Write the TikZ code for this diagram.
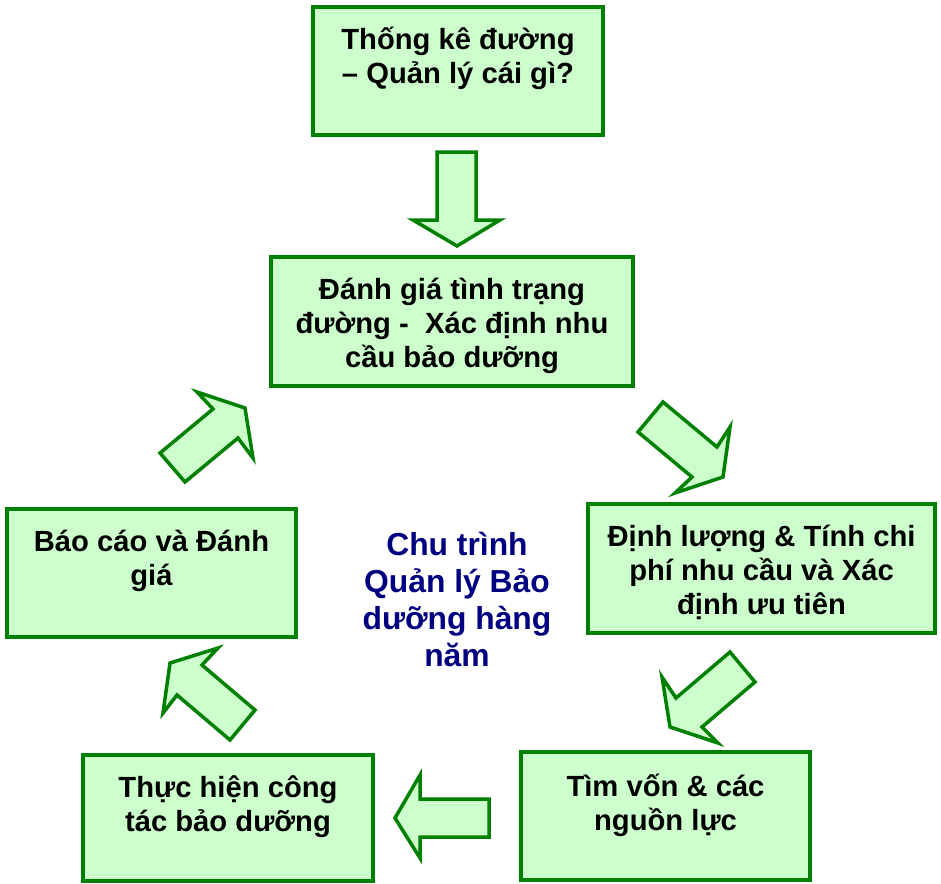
\documentclass[tikz,border=0pt]{standalone}
\usepackage{fontspec}
\setmainfont{Liberation Sans}
\definecolor{boxgreen}{RGB}{0,128,0}
\definecolor{boxfill}{RGB}{204,255,204}
\definecolor{navytext}{RGB}{0,0,128}
\tikzset{
  stepbox/.style={draw=boxgreen, fill=boxfill, line width=4pt, rectangle, inner sep=0pt},
  boxtext/.style={anchor=base, inner sep=0pt, font=\fontsize{29.2}{34}\selectfont\bfseries},
  centertext/.style={anchor=base, inner sep=0pt, text=navytext, font=\fontsize{31.8}{37.3}\selectfont\bfseries},
  blockarrow/.style={draw=boxgreen, fill=boxfill, line width=3.5pt, line join=miter}
}
\newcommand{\lines}[1]{\begin{tabular}[t]{@{}c@{}}#1\end{tabular}}
\begin{document}
\begin{tikzpicture}[x=1pt,y=-1pt]
\useasboundingbox (0,0) rectangle (941,883);
% boxes
\node[stepbox, minimum width=290pt, minimum height=128pt] (b1) at (458,71) {};
\node[stepbox, minimum width=362pt, minimum height=129pt] (b2) at (452,321.5) {};
\node[stepbox, minimum width=347pt, minimum height=129pt] (b3) at (761.5,568.5) {};
\node[stepbox, minimum width=289pt, minimum height=128pt] (b4) at (665.5,816) {};
\node[stepbox, minimum width=290pt, minimum height=126pt] (b5) at (228,818) {};
\node[stepbox, minimum width=289pt, minimum height=128pt] (b6) at (151.5,573) {};
% texts
\node[boxtext] (t1) at ([yshift=-44.5pt]b1.north) {\lines{Thống kê đường\\– Quản lý cái gì?}};
\node[boxtext] (t2) at ([yshift=-44.5pt]b2.north) {\lines{Đánh giá tình trạng\\đường -\ \ Xác định nhu\\cầu bảo dưỡng}};
\node[boxtext] (t3) at ([yshift=-44pt]b3.north) {\lines{Định lượng \& Tính chi\\phí nhu cầu và Xác\\định ưu tiên}};
\node[boxtext] (t4) at ([yshift=-46.5pt]b4.north) {\lines{Tìm vốn \& các\\nguồn lực}};
\node[boxtext] (t5) at ([yshift=-44pt]b5.north) {\lines{Thực hiện công\\tác bảo dưỡng}};
\node[boxtext] (t6) at ([yshift=-44pt]b6.north) {\lines{Báo cáo và Đánh\\giá}};
\node[centertext] (ct) at (457,555) {\lines{Chu trình\\Quản lý Bảo\\dưỡng hàng\\năm}};
% block arrows
\draw[blockarrow] (437,152) -- (476,152) -- (476,220) -- (500,220) -- (457,246) -- (413,220) -- (437,220) -- cycle;
\draw[blockarrow] (663,402) -- (717,447) -- (730,427) -- (723,477) -- (675,493) -- (692,477) -- (638,432) -- cycle;
\draw[blockarrow] (730,652) -- (755,682) -- (702,727) -- (718,743) -- (670,727) -- (662,677) -- (676,698) -- cycle;
\draw[blockarrow] (489,799) -- (420,799) -- (420,775) -- (395,818) -- (420,858) -- (420,837) -- (489,837) -- cycle;
\draw[blockarrow] (218,648) -- (170,663) -- (163,713) -- (177,695) -- (230,740) -- (255,710) -- (202,665) -- cycle;
\draw[blockarrow] (197,392) -- (245,408) -- (253,458) -- (238,438) -- (185,482) -- (160,453) -- (213,409) -- cycle;
\end{tikzpicture}
\end{document}
